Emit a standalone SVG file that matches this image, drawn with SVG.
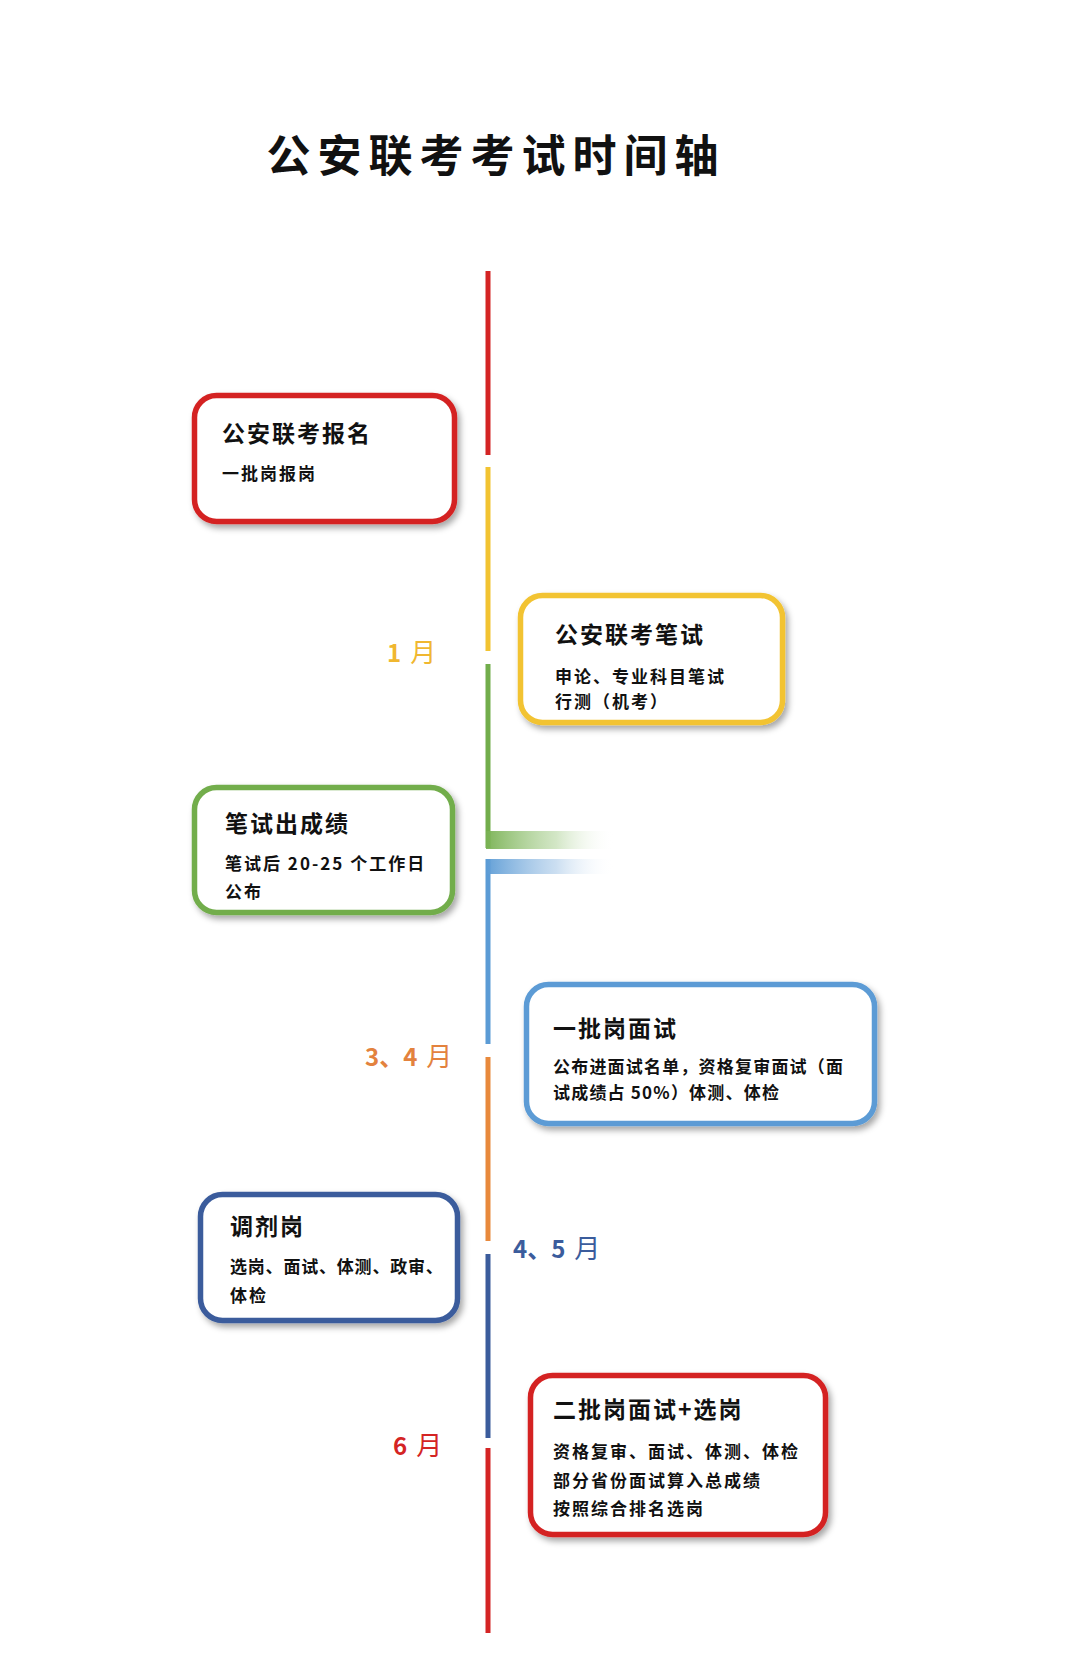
<svg xmlns="http://www.w3.org/2000/svg" width="1080" height="1678" viewBox="0 0 1080 1678">
<defs>
<filter id="sh" x="-10%" y="-10%" width="125%" height="130%">
<feDropShadow dx="3" dy="4" stdDeviation="3" flood-color="#000" flood-opacity="0.35"/>
</filter>
<linearGradient id="gG" x1="0" y1="0" x2="1" y2="0">
<stop offset="0" stop-color="#78b152" stop-opacity="0.95"/>
<stop offset="0.55" stop-color="#b5d6a0" stop-opacity="0.6"/>
<stop offset="1" stop-color="#ffffff" stop-opacity="0"/>
</linearGradient>
<linearGradient id="gB" x1="0" y1="0" x2="1" y2="0">
<stop offset="0" stop-color="#5b9bd5" stop-opacity="0.95"/>
<stop offset="0.55" stop-color="#a9c9e8" stop-opacity="0.6"/>
<stop offset="1" stop-color="#ffffff" stop-opacity="0"/>
</linearGradient>
</defs>
<style>
.box{fill:#fff;stroke-width:5.5;filter:url(#sh)}
.t{font-family:"Noto Sans CJK SC","Noto Sans",sans-serif;font-weight:700;fill:#111}
.h{font-size:23px;letter-spacing:2px}
.b{font-size:17px;letter-spacing:2px}
.m{font-family:"Noto Sans CJK SC","Noto Sans",sans-serif;font-size:24px;font-weight:700}
.mo{font-size:26px;font-weight:400}
.seg{stroke-width:5;fill:none}
</style>
<rect width="1080" height="1678" fill="#fff"/>
<text x="496" y="172" text-anchor="middle" class="t" style="font-size:44px;letter-spacing:7px">公安联考考试时间轴</text>
<g id="connectors">
<line class="seg" x1="488" y1="271" x2="488" y2="455" stroke="#d42424"/>
<line class="seg" x1="488" y1="467" x2="488" y2="651" stroke="#f2c331"/>
<line class="seg" x1="488" y1="664" x2="488" y2="848" stroke="#72ad4c"/>
<rect x="486" y="831" width="128" height="18" fill="url(#gG)"/>
<line class="seg" x1="488" y1="859" x2="488" y2="1044" stroke="#5b9bd5"/>
<rect x="486" y="859" width="128" height="15" fill="url(#gB)"/>
<line class="seg" x1="488" y1="1057" x2="488" y2="1241" stroke="#e8893c"/>
<line class="seg" x1="488" y1="1254" x2="488" y2="1438" stroke="#3b5c9c"/>
<line class="seg" x1="488" y1="1448" x2="488" y2="1633" stroke="#d42424"/>
</g>
<g id="label-1">
<text x="387" y="662" class="m" fill="#f0b730">1<tspan class="mo" dx="9">月</tspan></text>
</g>
<g id="label-34">
<text x="365" y="1066" class="m" fill="#e3823e">3、4<tspan class="mo" dx="9">月</tspan></text>
</g>
<g id="label-45">
<text x="513" y="1258" class="m" fill="#3b5c9c">4、5<tspan class="mo" dx="9">月</tspan></text>
</g>
<g id="label-6">
<text x="393" y="1455" class="m" fill="#d42424">6<tspan class="mo" dx="9">月</tspan></text>
</g>
<g id="node-1">
<rect class="box" x="194.5" y="395.5" width="260" height="126" rx="22" stroke="#d42424"/>
<text x="222" y="442" class="t h">公安联考报名</text>
<text x="222" y="480" class="t b">一批岗报岗</text>
</g>
<g id="node-2">
<rect class="box" x="520.5" y="595.5" width="262" height="127" rx="22" stroke="#f2c331"/>
<text x="555" y="643" class="t h">公安联考笔试</text>
<text x="555" y="683" class="t b">申论、专业科目笔试</text>
<text x="555" y="708" class="t b">行测（机考）</text>
</g>
<g id="node-3">
<rect class="box" x="194.5" y="787.5" width="258" height="125" rx="22" stroke="#72ad4c"/>
<text x="225" y="832" class="t h">笔试出成绩</text>
<text x="225" y="870" class="t b">笔试后 20-25 个工作日</text>
<text x="225" y="898" class="t b">公布</text>
</g>
<g id="node-4">
<rect class="box" x="526.5" y="984.5" width="348" height="139" rx="22" stroke="#5b9bd5"/>
<text x="553" y="1037" class="t h">一批岗面试</text>
<text x="553" y="1073" class="t b" style="letter-spacing:1.2px">公布进面试名单，资格复审面试（面</text>
<text x="553" y="1099" class="t b" style="letter-spacing:1.2px">试成绩占 50%）体测、体检</text>
</g>
<g id="node-5">
<rect class="box" x="200.5" y="1194.5" width="257" height="126" rx="22" stroke="#3b5c9c"/>
<text x="230" y="1235" class="t h">调剂岗</text>
<text x="230" y="1273" class="t b" style="letter-spacing:0.8px">选岗、面试、体测、政审、</text>
<text x="230" y="1302" class="t b">体检</text>
</g>
<g id="node-6">
<rect class="box" x="530.5" y="1375.5" width="295" height="159" rx="22" stroke="#d42424"/>
<text x="553" y="1418" class="t h">二批岗面试+选岗</text>
<text x="553" y="1458" class="t b">资格复审、面试、体测、体检</text>
<text x="553" y="1487" class="t b">部分省份面试算入总成绩</text>
<text x="553" y="1515" class="t b">按照综合排名选岗</text>
</g>
</svg>
